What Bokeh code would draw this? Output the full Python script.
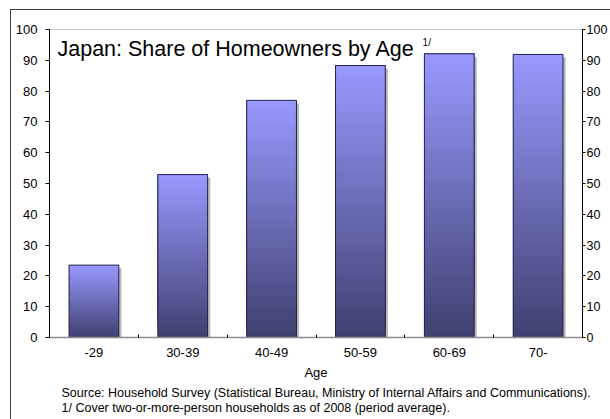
import numpy as np
from bokeh.plotting import figure
from bokeh.models import Range1d, LinearAxis, FixedTicker, Label, Title
from bokeh.embed import file_html
from bokeh.resources import INLINE

# ---- data ----
ages = ["-29", "30-39", "40-49", "50-59", "60-69", "70-"]
share = [23.5, 52.9, 77.0, 88.3, 92.1, 91.9]
y_ticks = [0, 10, 20, 30, 40, 50, 60, 70, 80, 90, 100]
title_text = "Japan: Share of Homeowners by Age"
title_note = "1/"
x_label = "Age"
source_lines = [
    "Source: Household Survey (Statistical Bureau, Ministry of Internal Affairs and Communications).",
    "1/ Cover two-or-more-person households as of 2008 (period average).",
]

FONT = "Liberation Sans"
TOP = np.array([0x99, 0x99, 0xFF], dtype=float)
BOT = np.array([0x40, 0x40, 0x70], dtype=float)

centers = [i + 0.5 for i in range(len(ages))]
bounds = [i for i in range(1, len(ages))]
bw = 0.56

p = figure(width=610, height=419, output_backend="svg", toolbar_location=None,
           x_range=Range1d(0, len(ages)), y_range=Range1d(0, 100),
           min_border_left=49, min_border_right=0, min_border_top=29,
           min_border_bottom=82)
p.xgrid.visible = False
p.ygrid.visible = False
p.outline_line_color = "#c8c8c8"
p.background_fill_color = "white"
p.border_fill_color = None
p.styles = {
    "background": "linear-gradient(#404040,#404040) 10px 9px / 100% 1px no-repeat, "
                  "linear-gradient(#404040,#404040) 10px 9px / 1px 100% no-repeat, #ffffff"
}

# x axis
xa = p.xaxis[0]
xa.ticker = FixedTicker(ticks=centers, minor_ticks=bounds)
xa.major_label_overrides = {c: a for c, a in zip(centers, ages)}
xa.major_tick_in = 0
xa.major_tick_out = 0
xa.minor_tick_in = 3
xa.minor_tick_out = 0
xa.minor_tick_line_color = "black"
xa.axis_line_color = "#8c8c8c"
xa.axis_line_width = 1.5
xa.major_label_standoff = 10
xa.major_label_text_font = FONT
xa.major_label_text_font_size = "13px"
xa.major_label_text_color = "black"
xa.axis_label = x_label
xa.axis_label_text_font = FONT
xa.axis_label_text_font_style = "normal"
xa.axis_label_text_font_size = "13px"
xa.axis_label_text_color = "black"
xa.axis_label_standoff = 5

# y axes
def style_y(ax, standoff):
    ax.ticker = FixedTicker(ticks=y_ticks)
    ax.minor_tick_line_color = None
    ax.major_tick_in = 0
    ax.major_tick_out = 4
    ax.axis_line_color = "black"
    ax.major_tick_line_color = "black"
    ax.major_label_standoff = standoff
    ax.major_label_text_font = FONT
    ax.major_label_text_font_size = "13px"
    ax.major_label_text_color = "black"
    ax.axis_label_standoff = 0

style_y(p.yaxis[0], 8)
ra = LinearAxis()
style_y(ra, 1)
ra.major_tick_out = 3
ra.major_label_text_font_size = "12.5px"
p.add_layout(ra, "right")

# bar shadows
p.quad(left=[c + bw / 2 for c in centers], right=[c + bw / 2 + 0.03 for c in centers],
       bottom=0, top=[v - 1.0 for v in share], fill_color="#b8b8b8", line_color=None)

# gradient bars: each slice spans from its level to the bar top, drawn bottom-up
n = 80
L, R, B, T, C = [], [], [], [], []
for c, v in zip(centers, share):
    edges = np.linspace(0, v, n + 1)
    for k in range(n):
        frac = (k + 0.5) / n
        col = BOT + (TOP - BOT) * frac
        L.append(c - bw / 2)
        R.append(c + bw / 2)
        B.append(edges[k])
        T.append(v)
        C.append("#%02x%02x%02x" % tuple(int(round(x)) for x in col))
p.quad(left=L, right=R, bottom=B, top=T, fill_color=C, line_color=None)
p.quad(left=[c - bw / 2 for c in centers], right=[c + bw / 2 for c in centers],
       bottom=0, top=share, fill_color=None, line_color="#23234a", line_width=1)

# title with note mark
p.add_layout(Label(x=0.09, y=93.7, text=title_text, text_font=FONT,
                   text_font_size="21.5px", text_baseline="alphabetic", text_color="black"))
p.add_layout(Label(x=4.2, y=95.7, text=title_note, text_font=FONT,
                   text_font_size="10px", text_baseline="alphabetic", text_color="black"))

# source notes below the axis
p.add_layout(Title(text="\n".join(source_lines), align="left", offset=12,
                   text_font=FONT, text_font_size="12.5px", text_font_style="normal",
                   text_color="black", text_line_height=1.1, standoff=3), "below")

open("out.html", "w").write(file_html(p, INLINE))
